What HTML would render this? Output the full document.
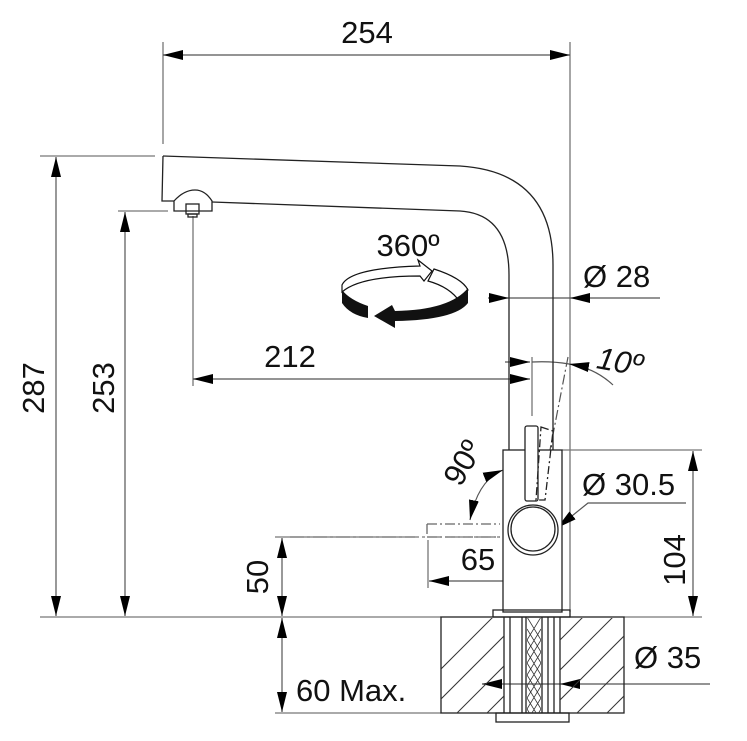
<!DOCTYPE html>
<html><head><meta charset="utf-8"><style>
html,body{margin:0;padding:0;background:#fff;}
svg{display:block;}
text{font-family:"Liberation Sans",Arial,sans-serif;fill:#111;}
</style></head><body>
<svg width="747" height="741" viewBox="0 0 747 741" xmlns="http://www.w3.org/2000/svg">
<defs>
<marker id="a" viewBox="0 0 20 10" refX="20" refY="5" markerWidth="20" markerHeight="10" markerUnits="userSpaceOnUse" orient="auto-start-reverse"><path d="M0,0 L20,5 L0,10 Z" fill="#000"/></marker>
<clipPath id="sl"><rect x="441" y="618" width="63" height="95"/><rect x="560" y="618" width="64" height="95"/></clipPath>
<clipPath id="hose"><rect x="527" y="618" width="14" height="95"/></clipPath>
</defs>
<g stroke="#777" stroke-width="1.3" fill="none">
<line x1="163" y1="42" x2="163" y2="144"/>
<line x1="570" y1="42" x2="570" y2="612"/>
<line x1="40" y1="156" x2="155" y2="156"/>
<line x1="118" y1="211" x2="168" y2="211"/>
<line x1="193" y1="216" x2="193" y2="386"/>
<line x1="40" y1="617" x2="441" y2="617"/>
<line x1="624" y1="617" x2="702" y2="617"/>
<line x1="562" y1="450" x2="702" y2="450"/>
<line x1="275" y1="537" x2="415" y2="537"/>
<line x1="275" y1="713" x2="441" y2="713"/>
<line x1="428" y1="540" x2="428" y2="588"/>
<line x1="532" y1="357" x2="532" y2="416"/>
</g>
<g stroke="#555" stroke-width="1.2" fill="none">
<line x1="163" y1="55" x2="570" y2="55" marker-start="url(#a)" marker-end="url(#a)"/>
<line x1="56" y1="157" x2="56" y2="616" marker-start="url(#a)" marker-end="url(#a)"/>
<line x1="125" y1="212" x2="125" y2="616" marker-start="url(#a)" marker-end="url(#a)"/>
<line x1="193" y1="379" x2="530" y2="379" marker-start="url(#a)" marker-end="url(#a)"/>
<line x1="505" y1="362" x2="530" y2="362" marker-end="url(#a)"/>
<line x1="488" y1="298" x2="509" y2="298" marker-end="url(#a)"/>
<line x1="660" y1="298" x2="570" y2="298" marker-end="url(#a)"/>
<line x1="509" y1="298" x2="570" y2="298"/>
<line x1="693" y1="451" x2="693" y2="616" marker-start="url(#a)" marker-end="url(#a)"/>
<line x1="282" y1="538" x2="282" y2="616" marker-start="url(#a)" marker-end="url(#a)"/>
<line x1="282" y1="618" x2="282" y2="712" marker-start="url(#a)" marker-end="url(#a)"/>
<line x1="429" y1="581" x2="530" y2="581" marker-start="url(#a)" marker-end="url(#a)"/>
<line x1="710" y1="684" x2="560" y2="684" marker-end="url(#a)"/>
<line x1="560" y1="684" x2="482" y2="684" marker-end="url(#a)"/>
<path d="M686,503 L588,503 L557,528" marker-end="url(#a)"/>
<path d="M613,385 Q595,368 569,364" marker-end="url(#a)"/>
<path d="M532,362 Q552,361 569,364"/>
<path d="M503,470 Q478,480 470,520" marker-start="url(#a)" marker-end="url(#a)"/>
<line x1="568" y1="357" x2="550" y2="450" stroke-dasharray="10,3,2,3"/>
</g>
<g stroke="#222" stroke-width="1.3" fill="none">
<path d="M163,156 L460,166 Q553,172 553,265 L553,450"/>
<path d="M212,202 L460,211 Q509,214 509,275 L509,450"/>
<path d="M163,156 L162,201 L174,201"/>
<path d="M174,211 L174,201 Q184,190 195,190 Q205,190 212,201 L212,211 Z"/>
<rect x="186" y="204" width="13" height="10"/>
<rect x="188" y="214" width="9" height="3"/>
<rect x="503" y="450" width="59" height="162" fill="#fff"/>
<rect x="525" y="426" width="13" height="75" rx="2" fill="#fff"/>
<path d="M541,427 L553,431 L545,500 L536,500 Z" stroke-dasharray="8,3,2,3"/>
<circle cx="533" cy="530" r="25" fill="#fff"/>
<circle cx="533" cy="529" r="22"/>
<path d="M427,524 L500,524 M427,537 L500,537 M427,524 L427,537" stroke-dasharray="10,3,2,3" stroke="#666"/>
<line x1="290" y1="537" x2="500" y2="537" stroke="#777" stroke-dasharray="14,3,3,3"/>
<rect x="493" y="610" width="77" height="7"/>
<rect x="441" y="617" width="183" height="96"/>
<rect x="496" y="713" width="73" height="9"/>
<line x1="504" y1="617" x2="504" y2="713"/>
<line x1="510" y1="617" x2="510" y2="713"/>
<line x1="522" y1="617" x2="522" y2="713"/>
<line x1="526" y1="617" x2="526" y2="713"/>
<line x1="542" y1="617" x2="542" y2="713"/>
<line x1="548" y1="617" x2="548" y2="713"/>
<line x1="554" y1="617" x2="554" y2="713"/>
<line x1="560" y1="617" x2="560" y2="713"/>
</g>
<g clip-path="url(#sl)" stroke="#333" stroke-width="1">
<line x1="400" y1="740" x2="540" y2="600"/><line x1="430" y1="740" x2="570" y2="600"/><line x1="460" y1="740" x2="600" y2="600"/><line x1="370" y1="740" x2="510" y2="600"/><line x1="490" y1="740" x2="630" y2="600"/><line x1="520" y1="740" x2="660" y2="600"/><line x1="550" y1="740" x2="690" y2="600"/><line x1="580" y1="740" x2="720" y2="600"/><line x1="610" y1="740" x2="750" y2="600"/>
</g>
<g clip-path="url(#hose)" stroke="#333" stroke-width="0.8" fill="none">
<path d="M527,617 L541,640 L527,663 L541,686 L527,709 L541,732"/>
<path d="M541,617 L527,640 L541,663 L527,686 L541,709 L527,732"/>
<path d="M527,629 L541,652 L527,675 L541,698 L527,721"/>
<path d="M541,629 L527,652 L541,675 L527,698 L541,721"/>
</g>
<path d="M342,285 Q350,268 420,266 L418,260 L432,271 L424,281 L420,276 Q360,276 342,292 Z" fill="#fff" stroke="#111" stroke-width="1.2"/>
<path d="M434,269 Q462,278 468,290 L460,302 Q450,287 428,281 Z" fill="#fff" stroke="#111" stroke-width="1.2"/>
<path d="M342,290 L342,303 Q350,315 368,318 L368,306 Q350,300 342,290 Z" fill="#111"/>
<path d="M468,288 L468,303 Q455,320 395,321 L395,328 L374,316 L392,305 L395,311 Q450,310 468,288 Z" fill="#111"/>
<g font-size="31">
<text x="367" y="43" text-anchor="middle">254</text>
<text x="408" y="256" text-anchor="middle">360º</text>
<text x="583" y="287">Ø 28</text>
<text x="290" y="367" text-anchor="middle">212</text>
<text x="582" y="495">Ø 30.5</text>
<text x="478" y="570" text-anchor="middle">65</text>
<text x="296" y="701">60 Max.</text>
<text x="634" y="668">Ø 35</text>
<text transform="translate(44,388) rotate(-90)" text-anchor="middle">287</text>
<text transform="translate(114,388) rotate(-90)" text-anchor="middle">253</text>
<text transform="translate(268,577) rotate(-90)" text-anchor="middle">50</text>
<text transform="translate(685,560) rotate(-90)" text-anchor="middle">104</text>
<text transform="translate(472,468) rotate(-60)" text-anchor="middle">90º</text>
<text transform="translate(618,372) rotate(10)" text-anchor="middle" font-style="italic">10º</text>
</g>
</svg>
</body></html>
